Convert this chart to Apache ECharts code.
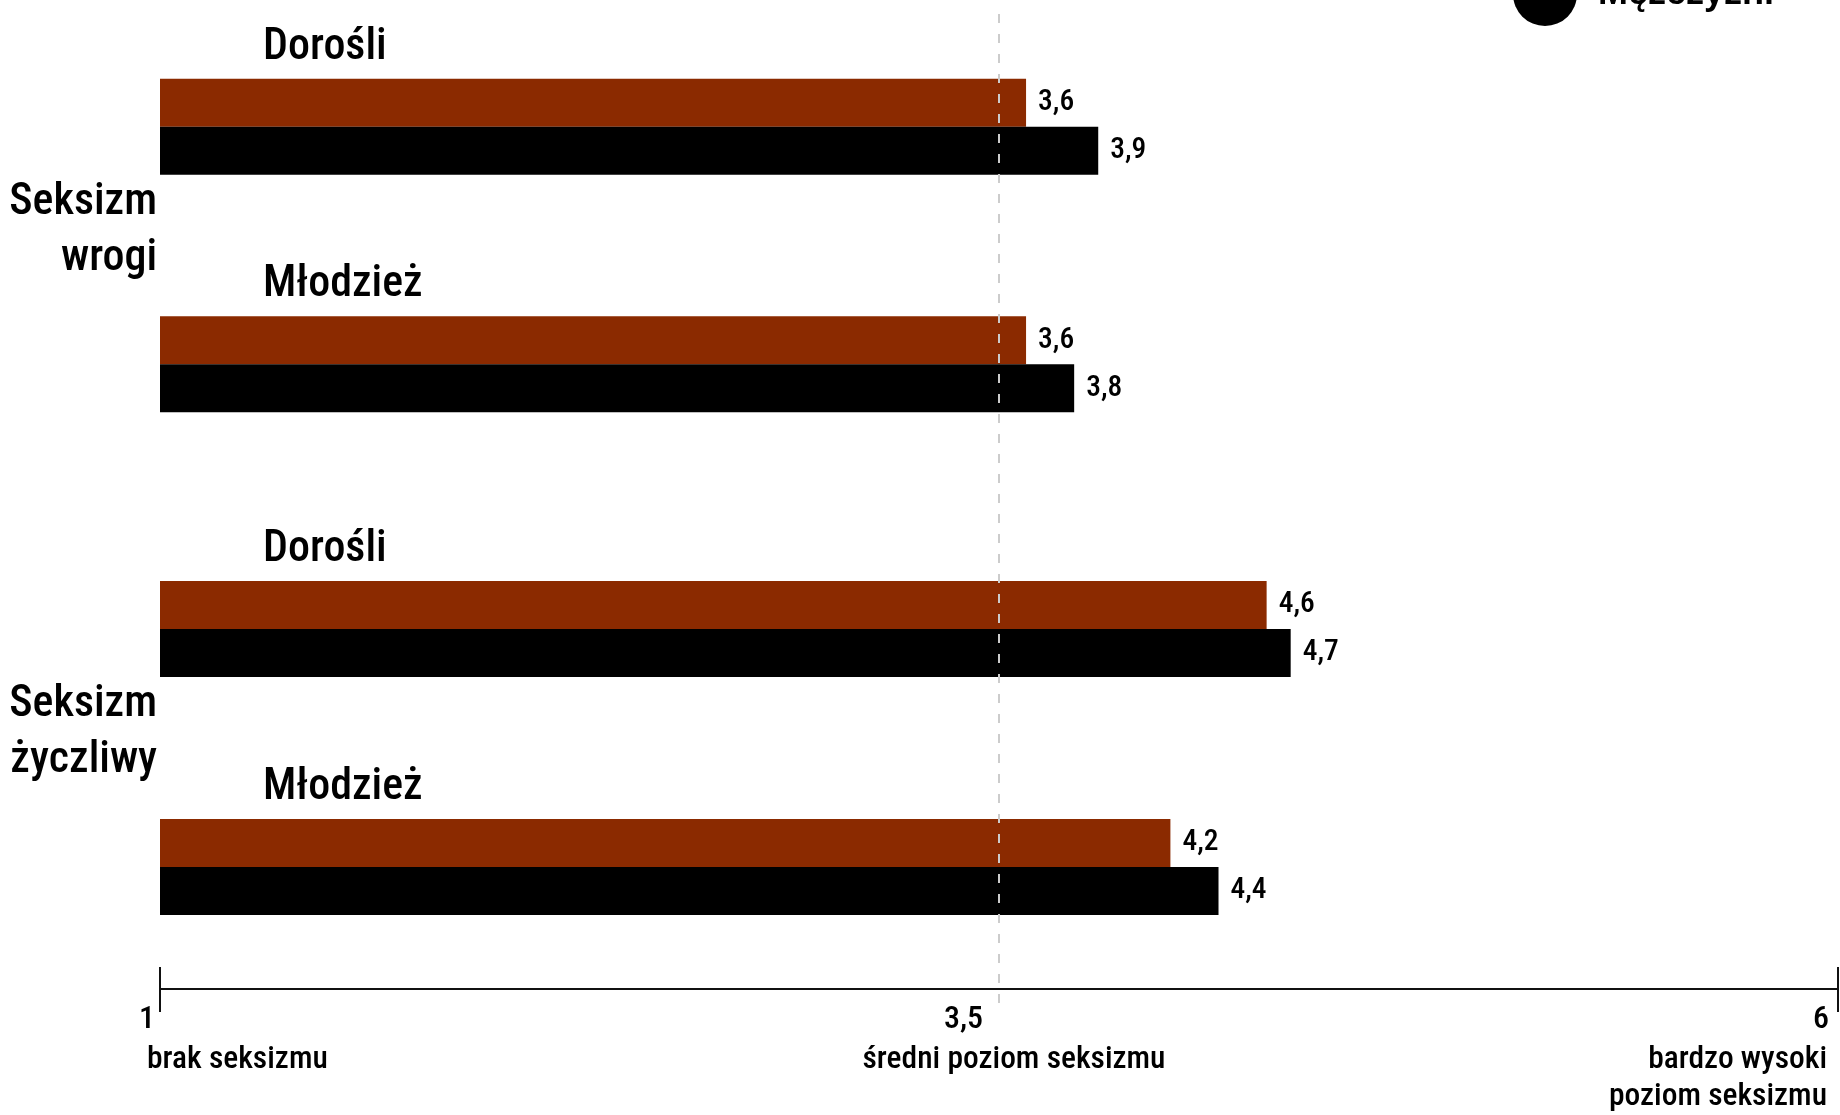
<!DOCTYPE html>
<html>
<head>
<meta charset="utf-8">
<script src="https://cdn.jsdelivr.net/npm/echarts@6/dist/echarts.min.js"></script>
<style>
html,body{margin:0;padding:0;background:#fff;}
#chart{width:1840px;height:1115px;}
</style>
</head>
<body>
<div id="chart"></div>
<script>
// ---- data ----
const categories = ['Dorośli', 'Młodzież'];
const groupNames = ['Seksizm\nwrogi', 'Seksizm\nżyczliwy'];
const seriesNames = ['Kobiety', 'Mężczyźni'];
const wrogiKobiety = [3.6, 3.6];
const wrogiMezczyzni = [3.9, 3.8];
const zyczliwyKobiety = [4.6, 4.2];
const zyczliwyMezczyzni = [4.7, 4.4];
const tickLabels = ['1', '3,5', '6'];
const scaleNotes = ['brak seksizmu', 'średni poziom seksizmu', 'bardzo wysoki\npoziom seksizmu'];

// ---- styles ----
const FONT = "'Roboto Condensed', 'DejaVu Sans Condensed', sans-serif";
const W = 500;
const BROWN = '#8b2a00';
const BLACK = '#000000';
const AX_MIN = 0, AX_MAX = 7;

const chart = echarts.init(document.getElementById('chart'), null, {renderer: 'canvas'});

const fmtVal = p => p.value.toFixed(1).replace('.', ',');

function barSeries(name, data, color, gi) {
  return {
    type: 'bar', name: name, data: data,
    xAxisIndex: gi, yAxisIndex: gi,
    barWidth: 48, barGap: '0%',
    itemStyle: {color: color},
    label: {
      show: true, position: 'right', distance: 12,
      formatter: fmtVal,
      fontFamily: FONT, fontSize: 29.5, fontWeight: W, color: '#000'
    },
    emphasis: {disabled: true},
    silent: true
  };
}

function catAxis(gi) {
  const nameRich = groupNames[gi].split('\n').map(l => '{g|' + l + '}').join('\n') + '\n{s| }';
  return {
    type: 'category', gridIndex: gi, data: categories, inverse: true,
    axisLine: {show: false}, axisTick: {show: false}, splitLine: {show: false},
    axisLabel: {
      inside: true, margin: 103, align: 'left', interval: 0,
      formatter: v => '{h|' + v + '}',
      rich: {h: {fontFamily: FONT, fontSize: 44, fontWeight: W, color: '#000', padding: [0, 0, 158, 0]}}
    },
    name: nameRich, nameLocation: 'middle', nameRotate: 0, nameGap: -5,
    nameTextStyle: {
      align: 'right', verticalAlign: 'middle',
      rich: {
        g: {fontFamily: FONT, fontSize: 44, fontWeight: W, lineHeight: 56, color: '#000', align: 'right'},
        s: {fontSize: 1, lineHeight: 30, align: 'right'}
      }
    }
  };
}

const gridBase = {left: 160, right: 2, outerBoundsMode: 'none', containLabel: false};
const barGrid = {left: 160, right: -4, outerBoundsMode: 'none', containLabel: false};
const hiddenX = gi => ({type: 'value', gridIndex: gi, min: AX_MIN, max: AX_MAX, show: false});
const option = {
  animation: false,
  backgroundColor: '#fff',
  legend: {
    data: seriesNames, orient: 'vertical', left: 1513, top: -122,
    itemWidth: 64, itemHeight: 64, itemGap: 20, icon: 'circle', padding: 0,
    selectedMode: false,
    textStyle: {fontFamily: "'Liberation Sans', Arial, sans-serif", fontSize: 36, fontWeight: 'bold', color: '#000', padding: [0, 0, 0, 16]}
  },
  grid: [
    Object.assign({}, barGrid, {top: 8, height: 475}),
    Object.assign({}, barGrid, {top: 510, height: 476}),
    Object.assign({}, gridBase, {top: 14, height: 998}),
    Object.assign({}, gridBase, {top: 967, height: 45}),
    Object.assign({}, gridBase, {top: 500, height: 489})
  ],
  xAxis: [
    hiddenX(0),
    hiddenX(1),
    {
      type: 'value', gridIndex: 2, min: AX_MIN, max: AX_MAX, interval: 3.5, z: 10,
      axisLine: {show: false}, axisTick: {show: false}, axisLabel: {show: false},
      splitLine: {show: true, showMinLine: false, showMaxLine: false,
        lineStyle: {color: '#cccccc', width: 2, type: [9, 11]}}
    },
    {
      type: 'value', gridIndex: 3, min: AX_MIN, max: AX_MAX, interval: 7, z: 10,
      axisLine: {show: false}, axisTick: {show: false}, axisLabel: {show: false},
      splitLine: {show: true, lineStyle: {color: '#111', width: 2, type: 'solid'}}
    },
    {
      type: 'value', gridIndex: 4, min: AX_MIN, max: AX_MAX, interval: 3.5,
      axisLine: {show: true, lineStyle: {color: '#111', width: 2}},
      axisTick: {show: false}, splitLine: {show: false},
      axisLabel: {
        show: true, showMinLabel: true, showMaxLabel: true, margin: 15, align: 'right',
        formatter: (v, i) => '{n' + i + '|' + tickLabels[i] + '}',
        rich: {
          n0: {fontFamily: FONT, fontSize: 32, fontWeight: W, color: '#000', padding: [0, 5, 0, 0]},
          n1: {fontFamily: FONT, fontSize: 32, fontWeight: W, color: '#000', padding: [0, 16, 0, 0]},
          n2: {fontFamily: FONT, fontSize: 32, fontWeight: W, color: '#000', padding: [0, 9, 0, 0]}
        }
      }
    }
  ],
  yAxis: [
    catAxis(0),
    catAxis(1),
    {type: 'value', gridIndex: 2, show: false},
    {type: 'value', gridIndex: 3, show: false},
    {type: 'value', gridIndex: 4, show: false}
  ],
  series: [
    barSeries(seriesNames[0], wrogiKobiety, BROWN, 0),
    barSeries(seriesNames[1], wrogiMezczyzni, BLACK, 0),
    barSeries(seriesNames[0], zyczliwyKobiety, BROWN, 1),
    barSeries(seriesNames[1], zyczliwyMezczyzni, BLACK, 1)
  ]
};

chart.setOption(option);

// scale notes under the axis, anchored to the axis positions
const px = v => chart.convertToPixel({xAxisIndex: 4}, v);
const noteStyle = {fontFamily: FONT, fontSize: 31.5, fontWeight: W, fill: '#000', lineHeight: 37};
chart.setOption({
  graphic: [
    {type: 'text', x: px(AX_MIN) - 13, y: 1060,
     style: Object.assign({}, noteStyle, {text: scaleNotes[0], align: 'left', verticalAlign: 'middle'})},
    {type: 'text', x: px((AX_MIN + AX_MAX) / 2) + 15, y: 1060,
     style: Object.assign({}, noteStyle, {text: scaleNotes[1], align: 'center', verticalAlign: 'middle'})},
    {type: 'text', x: px(AX_MAX) - 11, y: 1079,
     style: Object.assign({}, noteStyle, {text: scaleNotes[2], align: 'right', verticalAlign: 'middle'})}
  ]
});
</script>
</body>
</html>
